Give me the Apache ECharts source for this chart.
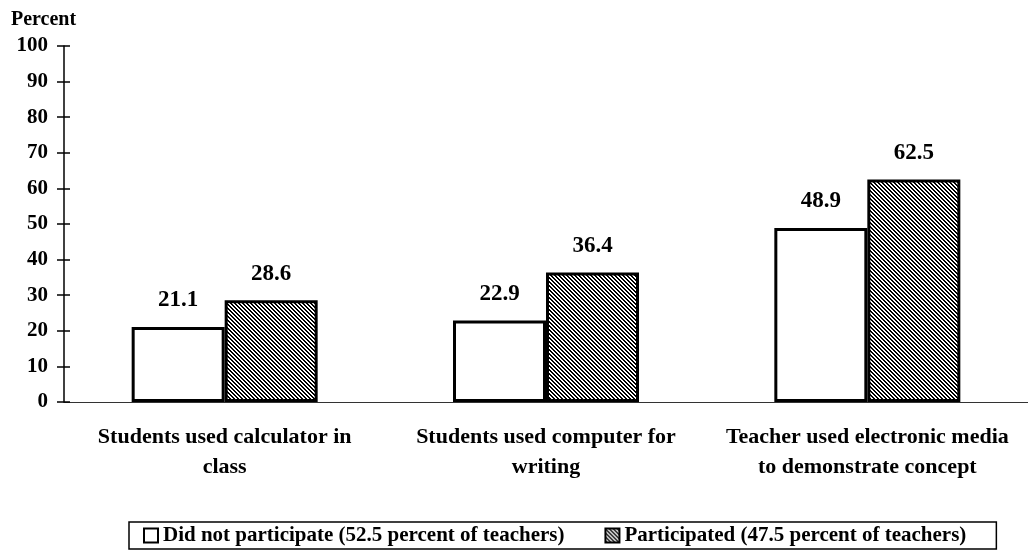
<!DOCTYPE html>
<html>
<head>
<meta charset="utf-8">
<script src="https://cdn.jsdelivr.net/npm/echarts@6/dist/echarts.min.js"></script>
<style>
  html, body { margin: 0; padding: 0; background: #fff; }
  #chart { width: 1028px; height: 550px; }
</style>
</head>
<body>
<div id="chart"></div>
<script>
const categories = [
  'Students used calculator in\nclass',
  'Students used computer for\nwriting',
  'Teacher used electronic media\nto demonstrate concept'
]
const notParticipated = [21.1, 22.9, 48.9]
const participated = [28.6, 36.4, 62.5]
const seriesNames = [
  'Did not participate (52.5 percent of teachers)',
  'Participated (47.5 percent of teachers)'
]

const font = '"Liberation Serif", "DejaVu Serif", serif'

// diagonal hatch, lines going top-left to bottom-right
const makeHatch = () => {
  const c = document.createElement('canvas')
  c.width = 4
  c.height = 4
  const ctx = c.getContext('2d')
  ctx.fillStyle = '#fff'
  ctx.fillRect(0, 0, 4, 4)
  ctx.fillStyle = '#000'
  for (let i = 0; i < 4; i++) {
    ctx.fillRect(i, i, 1, 1)
    ctx.fillRect(i, (i + 1) % 4, 1, 1)
  }
  return c
}

const chart = echarts.init(document.getElementById('chart'))

const labelStyle = {
  show: true,
  position: 'top',
  distance: 15,
  color: '#000',
  fontFamily: font,
  fontWeight: 'bold',
  fontSize: 23
}

chart.setOption({
  animation: false,
  textStyle: { fontFamily: font },
  graphic: [{
    type: 'text',
    left: 11,
    top: 10,
    style: { text: 'Percent', font: 'bold 20px ' + font, fill: '#000' }
  }],
  legend: {
    left: 129,
    top: 522,
    padding: [3, 30, 3, 14],
    borderColor: '#000',
    borderWidth: 1.5,
    borderRadius: 0,
    itemWidth: 14,
    itemHeight: 14,
    itemGap: 40,
    icon: 'rect',
    itemStyle: { borderWidth: 2 },
    textStyle: { fontFamily: font, fontWeight: 'bold', fontSize: 21, color: '#000' }
  },
  grid: { left: 64, top: 46, width: 968, height: 356 },
  xAxis: {
    type: 'category',
    data: categories,
    axisLine: { lineStyle: { color: '#333', width: 1 } },
    axisTick: { show: false },
    axisLabel: {
      interval: 0,
      margin: 20,
      color: '#000',
      fontFamily: font,
      fontWeight: 'bold',
      fontSize: 22,
      lineHeight: 30
    }
  },
  yAxis: [{
    type: 'value',
    min: 0,
    max: 100,
    interval: 10,
    splitLine: { show: false },
    axisLine: { show: true, lineStyle: { color: '#000', width: 1.5 } },
    axisTick: { show: true, length: 7, lineStyle: { color: '#000', width: 1.5 } },
    axisLabel: { margin: 16, color: '#000', fontFamily: font, fontWeight: 'bold', fontSize: 21 }
  }, {
    type: 'value',
    position: 'left',
    min: 0,
    max: 100,
    interval: 10,
    splitLine: { show: false },
    axisLine: { show: false },
    axisTick: { show: true, inside: true, length: 6, lineStyle: { color: '#000', width: 1.5 } },
    axisLabel: { show: false }
  }],
  series: [{
    name: seriesNames[0],
    type: 'bar',
    data: notParticipated,
    barWidth: 93,
    barGap: '0%',
    itemStyle: { color: '#fff', borderColor: '#000', borderWidth: 3 },
    label: labelStyle
  }, {
    name: seriesNames[1],
    type: 'bar',
    data: participated,
    barWidth: 93,
    barGap: '0%',
    itemStyle: {
      color: { image: makeHatch(), repeat: 'repeat' },
      borderColor: '#000',
      borderWidth: 3
    },
    label: labelStyle
  }]
})
</script>
</body>
</html>
